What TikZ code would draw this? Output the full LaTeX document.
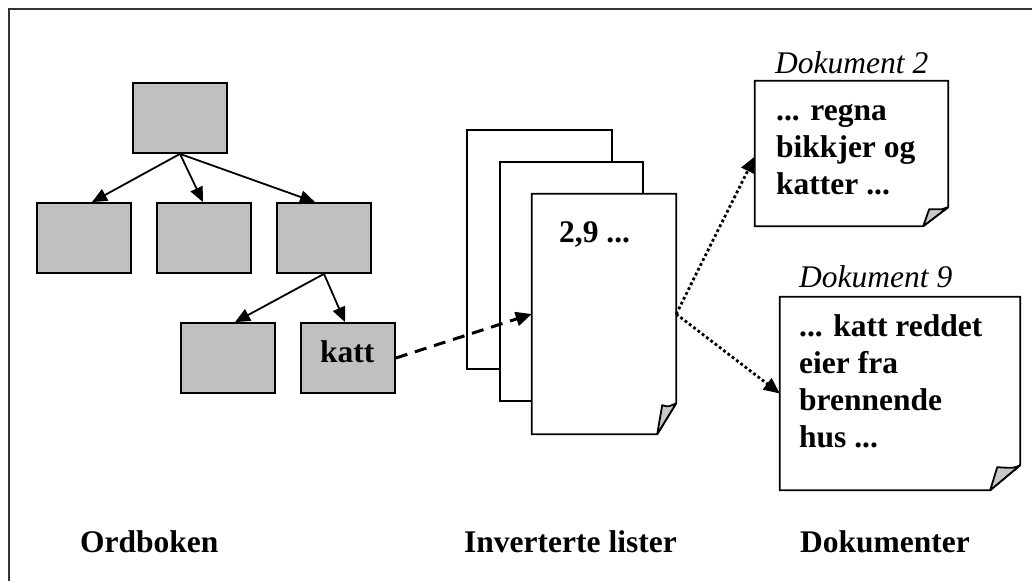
\documentclass[tikz,border=0pt]{standalone}
\usepackage{fontspec}
\setmainfont{Liberation Serif}
\usetikzlibrary{arrows.meta,calc}
\definecolor{treegray}{HTML}{C0C0C0}
\definecolor{flapgray}{HTML}{C8C8C8}
\definecolor{framegray}{HTML}{333333}

% folded sheet: #1 node name, #2 fold width, #3 fold height, #4 flap tip offset
\newcommand\foldedsheet[4]{%
  \draw[sheetline, fill=white]
    (#1.north west) -- (#1.north east) -- ($(#1.south east)+(0,-#3)$)
    -- ($(#1.south east)+(-#2,0)$) -- (#1.south west) -- cycle;
  \draw[sheetline, fill=flapgray, line join=round]
    ($(#1.south east)+(-#2,0)$) -- ($(#1.south east)+#4$)
    .. controls ($(#1.south east)+(-#3*0.25,-#3*0.88)$) .. ($(#1.south east)+(0,-#3)$) -- cycle;
}

\begin{document}
\begin{tikzpicture}[x=1pt,y=-1pt,
  treebox/.style={draw, line width=1.8pt, fill=treegray, minimum width=94pt,
    minimum height=70pt, inner sep=0pt},
  sheetline/.style={line width=1.8pt},
  bigtext/.style={font=\bfseries\fontsize{31.5}{37}\selectfont, inner sep=0pt},
  captext/.style={font=\itshape\fontsize{31.5}{37}\selectfont, inner sep=0pt},
  treearrow/.style={line width=1.8pt, -{Triangle[length=15pt,width=13pt]}},
  linkarrow/.style={line width=3pt, dash pattern=on 12pt off 8pt,
    -{Triangle[length=16pt,width=14pt]}},
  docarrow/.style={line width=2.8pt, dash pattern=on 2.8pt off 2.6pt,
    -{Triangle[length=16pt,width=14pt]}}
]
\useasboundingbox (0,0) rectangle (1032,581);

% frame
\draw[line width=2pt, framegray] (9,581) -- (9,9) -- (1032,9);

% dictionary tree
\node[treebox] (root) at (180,118) {};
\node[treebox] (c1) at (84,238) {};
\node[treebox] (c2) at (204,238) {};
\node[treebox] (c3) at (324,238) {};
\node[treebox] (c4) at (228,358) {};
\node[treebox] (katt) at (348,358) {};
\node[bigtext, anchor=base west] (kattlabel) at (320,362) {katt};

\draw[treearrow] (root.south) -- ($(c1.north)+(8,0)$);
\draw[treearrow] (root.south) -- ($(c2.north)+(-1,0)$);
\draw[treearrow] (root.south) -- ($(c3.north)+(-9,0)$);
\draw[treearrow] (c3.south) -- ($(c4.north)+(7,0)$);
\draw[treearrow] (c3.south) -- ($(katt.north)+(-3,0)$);

% inverted lists (stack of sheets)
\node[draw, sheetline, fill=white, minimum width=145pt, minimum height=239pt, inner sep=0pt]
  (back) at (539.5,249.5) {};
\node[draw, sheetline, fill=white, minimum width=143pt, minimum height=239pt, inner sep=0pt]
  (middle) at (571.5,281.5) {};
\node[minimum width=144pt, minimum height=240pt, inner sep=0pt] (front) at (604,314) {};
\foldedsheet{front}{19}{31}{(-14,-29)}
\node[bigtext, anchor=base west] (postings) at (559,242) {2,9 ...};

% documents (multi-line texts are placed by the baseline of their last line)
\node[minimum width=193pt, minimum height=145pt, inner sep=0pt] (d2) at (851.5,153.5) {};
\foldedsheet{d2}{25}{19}{(-19,-17)}
\node[captext, anchor=base west] (d2title) at (775,73) {Dokument 2};
\node[bigtext, anchor=base west, align=left] (d2text) at (776,194)
  {... regna\\bikkjer og\\katter ...};

\node[minimum width=240pt, minimum height=193pt, inner sep=0pt] (d9) at (900,393.5) {};
\foldedsheet{d9}{30}{25}{(-23,-23)}
\node[captext, anchor=base west] (d9title) at (799,287) {Dokument 9};
\node[bigtext, anchor=base west, align=left] (d9text) at (799,447)
  {... katt reddet\\eier fra\\brennende\\hus ...};

% connectors
\draw[linkarrow] (katt.east) -- (front.west);
\draw[docarrow] (front.east) -- ($(d2.west)+(0,3)$);
\draw[docarrow] (front.east) -- (d9.west);

% captions
\node[bigtext, anchor=base west] (lord) at (80,552) {Ordboken};
\node[bigtext, anchor=base west] (linv) at (464,552) {Inverterte lister};
\node[bigtext, anchor=base west] (ldok) at (800,552) {Dokumenter};
\end{tikzpicture}
\end{document}
